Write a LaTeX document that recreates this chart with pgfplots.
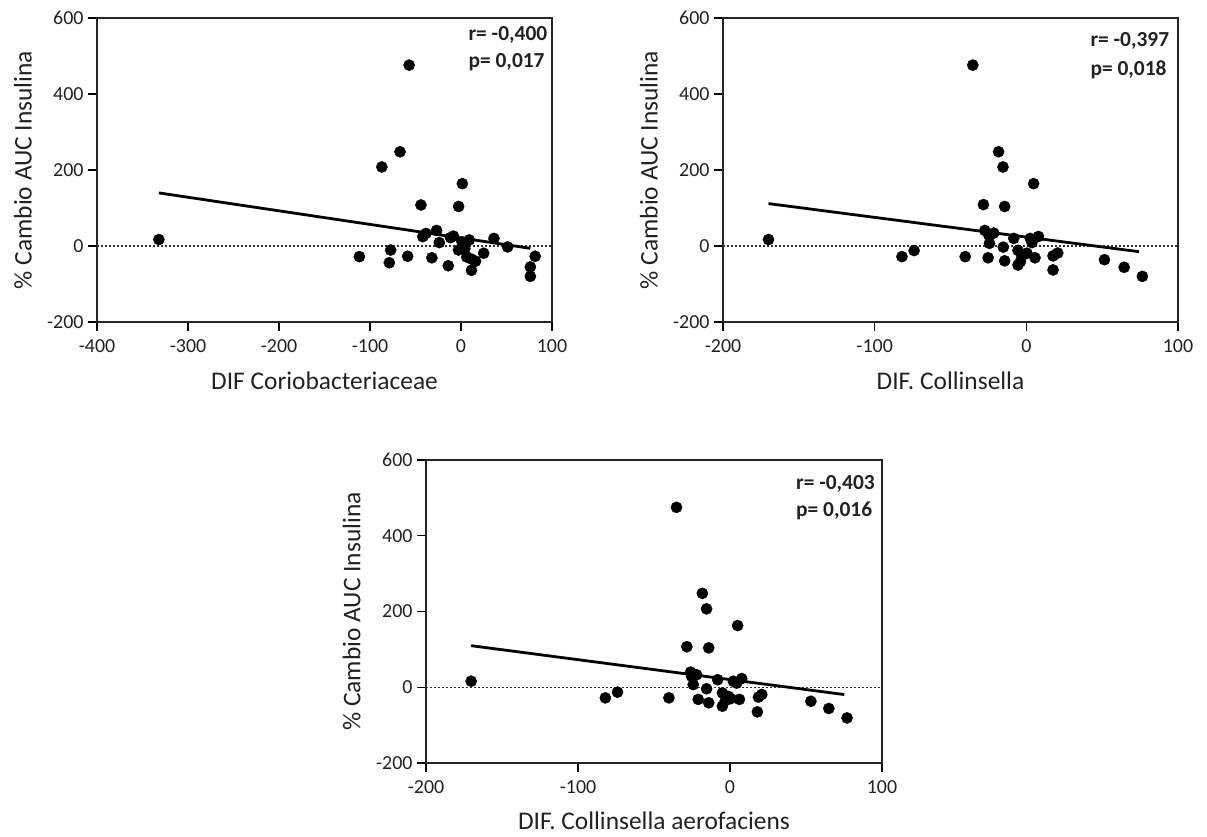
\documentclass[border=0pt]{standalone}
\usepackage{fontspec}
\setmainfont{Carlito}
\usepackage{pgfplots}
\pgfplotsset{compat=1.18}
\definecolor{ink}{HTML}{222222}
\tikzset{stat/.style={anchor=base west, font=\bfseries\fontsize{21.5}{25}\selectfont, text=ink}}
\pgfplotsset{
  gp/.style={
    scale only axis, width=455bp, height=304bp,
    ymin=-200, ymax=600, ytick={-200,0,200,400,600},
    tick pos=left, tick align=outside,
    major tick length=9bp,
    every tick/.style={line width=1.4bp, black},
    axis line style={line width=1.6bp, black!85},
    /pgf/number format/assume math mode=true,
    xticklabel style={font=\fontsize{20}{24}\selectfont, text=ink, yshift=-5bp},
    yticklabel style={font=\fontsize{20}{24}\selectfont, text=ink, xshift=-1bp},
    ylabel={\% Cambio AUC Insulina},
    every axis y label/.style={at={(axis description cs:-0.163,0.5)}, rotate=90, anchor=center,
      font=\fontsize{25.5}{30}\selectfont, text=ink},
    every axis x label/.style={at={(axis description cs:0.5,-0.221)}, anchor=base,
      font=\fontsize{25.5}{30}\selectfont, text=ink},
    clip=false,
  },
  pts/.style={only marks, mark=*, mark size=5.6bp, black},
  fitl/.style={no marks, line width=2.8bp, black},
  zero/.style={no marks, line width=1.2bp, black!80, dash pattern=on 1.5bp off 2.5bp},
}
\begin{document}
\begin{tikzpicture}
\useasboundingbox (0,0) rectangle (1207bp,-837bp);
% ---------- Plot 1 ----------
\begin{axis}[gp, at={(97bp,-322bp)}, anchor=south west,
  xmin=-400, xmax=100, xtick={-400,-300,-200,-100,0,100},
  xlabel={DIF Coriobacteriaceae}]
\addplot[zero] coordinates {(-400,0) (100,0)};
\addplot[fitl] coordinates {(-332,139.7) (76.2,-6.1)};
\addplot[pts] coordinates {
(-332,17) (-57,476) (-67,248) (-87,208) (1.5,164) (-44,108) (-2.6,104)
(-111.7,-28) (-77.3,-10.5) (-78.8,-44) (-58.6,-27) (-32,-31) (-14,-52)
(-42,24.6) (-38.5,33) (-26.8,41) (-23.8,9) (-11.5,22) (-8.3,26)
(1.1,11) (9.1,16) (-2.8,-10.5) (4.2,-7) (6.4,-29) (12,-35) (16,-40)
(11.5,-64) (24.9,-19) (36.2,20) (51.2,-2.5) (81.5,-27) (76.2,-55) (76.2,-80)
};
\node[stat] at (rel axis cs:0.809,0.925) {r= -0,400};
\node[stat] at (rel axis cs:0.809,0.836) {p= 0,017};
\end{axis}
% ---------- Plot 2 ----------
\begin{axis}[gp, at={(723bp,-322bp)}, anchor=south west,
  xmin=-200, xmax=100, xtick={-200,-100,0,100},
  xlabel={DIF. Collinsella}]
\addplot[zero] coordinates {(-200,0) (100,0)};
\addplot[fitl] coordinates {(-170,111.6) (74.3,-15)};
\addplot[pts] coordinates {
(-170,17) (-35.3,476) (-18.3,248) (-15.4,208) (4.8,164) (-28.3,109) (-14.3,104)
(-82,-28) (-74,-12) (-40.3,-28) (-27.4,41) (-24.8,29) (-21.5,34) (-24.3,7)
(-25.2,-31) (-15.2,-3) (-14.3,-39) (-8.3,20) (-5.5,-11.5) (-5.5,-50)
(-2.9,-26) (0.4,-19) (2.6,20) (3.7,9) (8,25) (5.7,-31) (-3.9,-41)
(17.6,-26) (20.7,-18.5) (17.6,-63) (51.5,-36) (64.5,-56) (76.5,-80)
};
\node[stat] at (rel axis cs:0.80,0.905) {r= -0,397};
\node[stat] at (rel axis cs:0.80,0.8125) {p= 0,018};
\end{axis}
% ---------- Plot 3 ----------
\begin{axis}[gp, at={(426bp,-763bp)}, anchor=south west, width=456bp, height=303bp,
  xmin=-200, xmax=100, xtick={-200,-100,0,100},
  xlabel={DIF. Collinsella aerofaciens}]
\addplot[zero] coordinates {(-200,0) (100,0)};
\addplot[fitl] coordinates {(-170.3,109.8) (75.2,-19.3)};
\addplot[pts] coordinates {
(-170.3,16) (-35.2,475) (-18.2,248) (-15.4,207) (5,163) (-28.4,107) (-14,104)
(-82,-28) (-74,-13) (-40.2,-28) (-25.9,40) (-25.3,29) (-22,33) (-24.2,7)
(-20.9,-32) (-15.4,-4) (-14,-41) (-8.1,20) (-5,-15) (-5,-50)
(-1.1,-24) (0.5,-30) (2.2,16) (4.4,11) (7.7,23) (6.2,-32) (-3,-35)
(18.7,-26) (20.9,-19) (18,-65) (53.2,-37) (65,-56) (77,-81)
};
\node[stat] at (rel axis cs:0.804,0.903) {r= -0,403};
\node[stat] at (rel axis cs:0.804,0.813) {p= 0,016};
\end{axis}
\end{tikzpicture}
\end{document}
